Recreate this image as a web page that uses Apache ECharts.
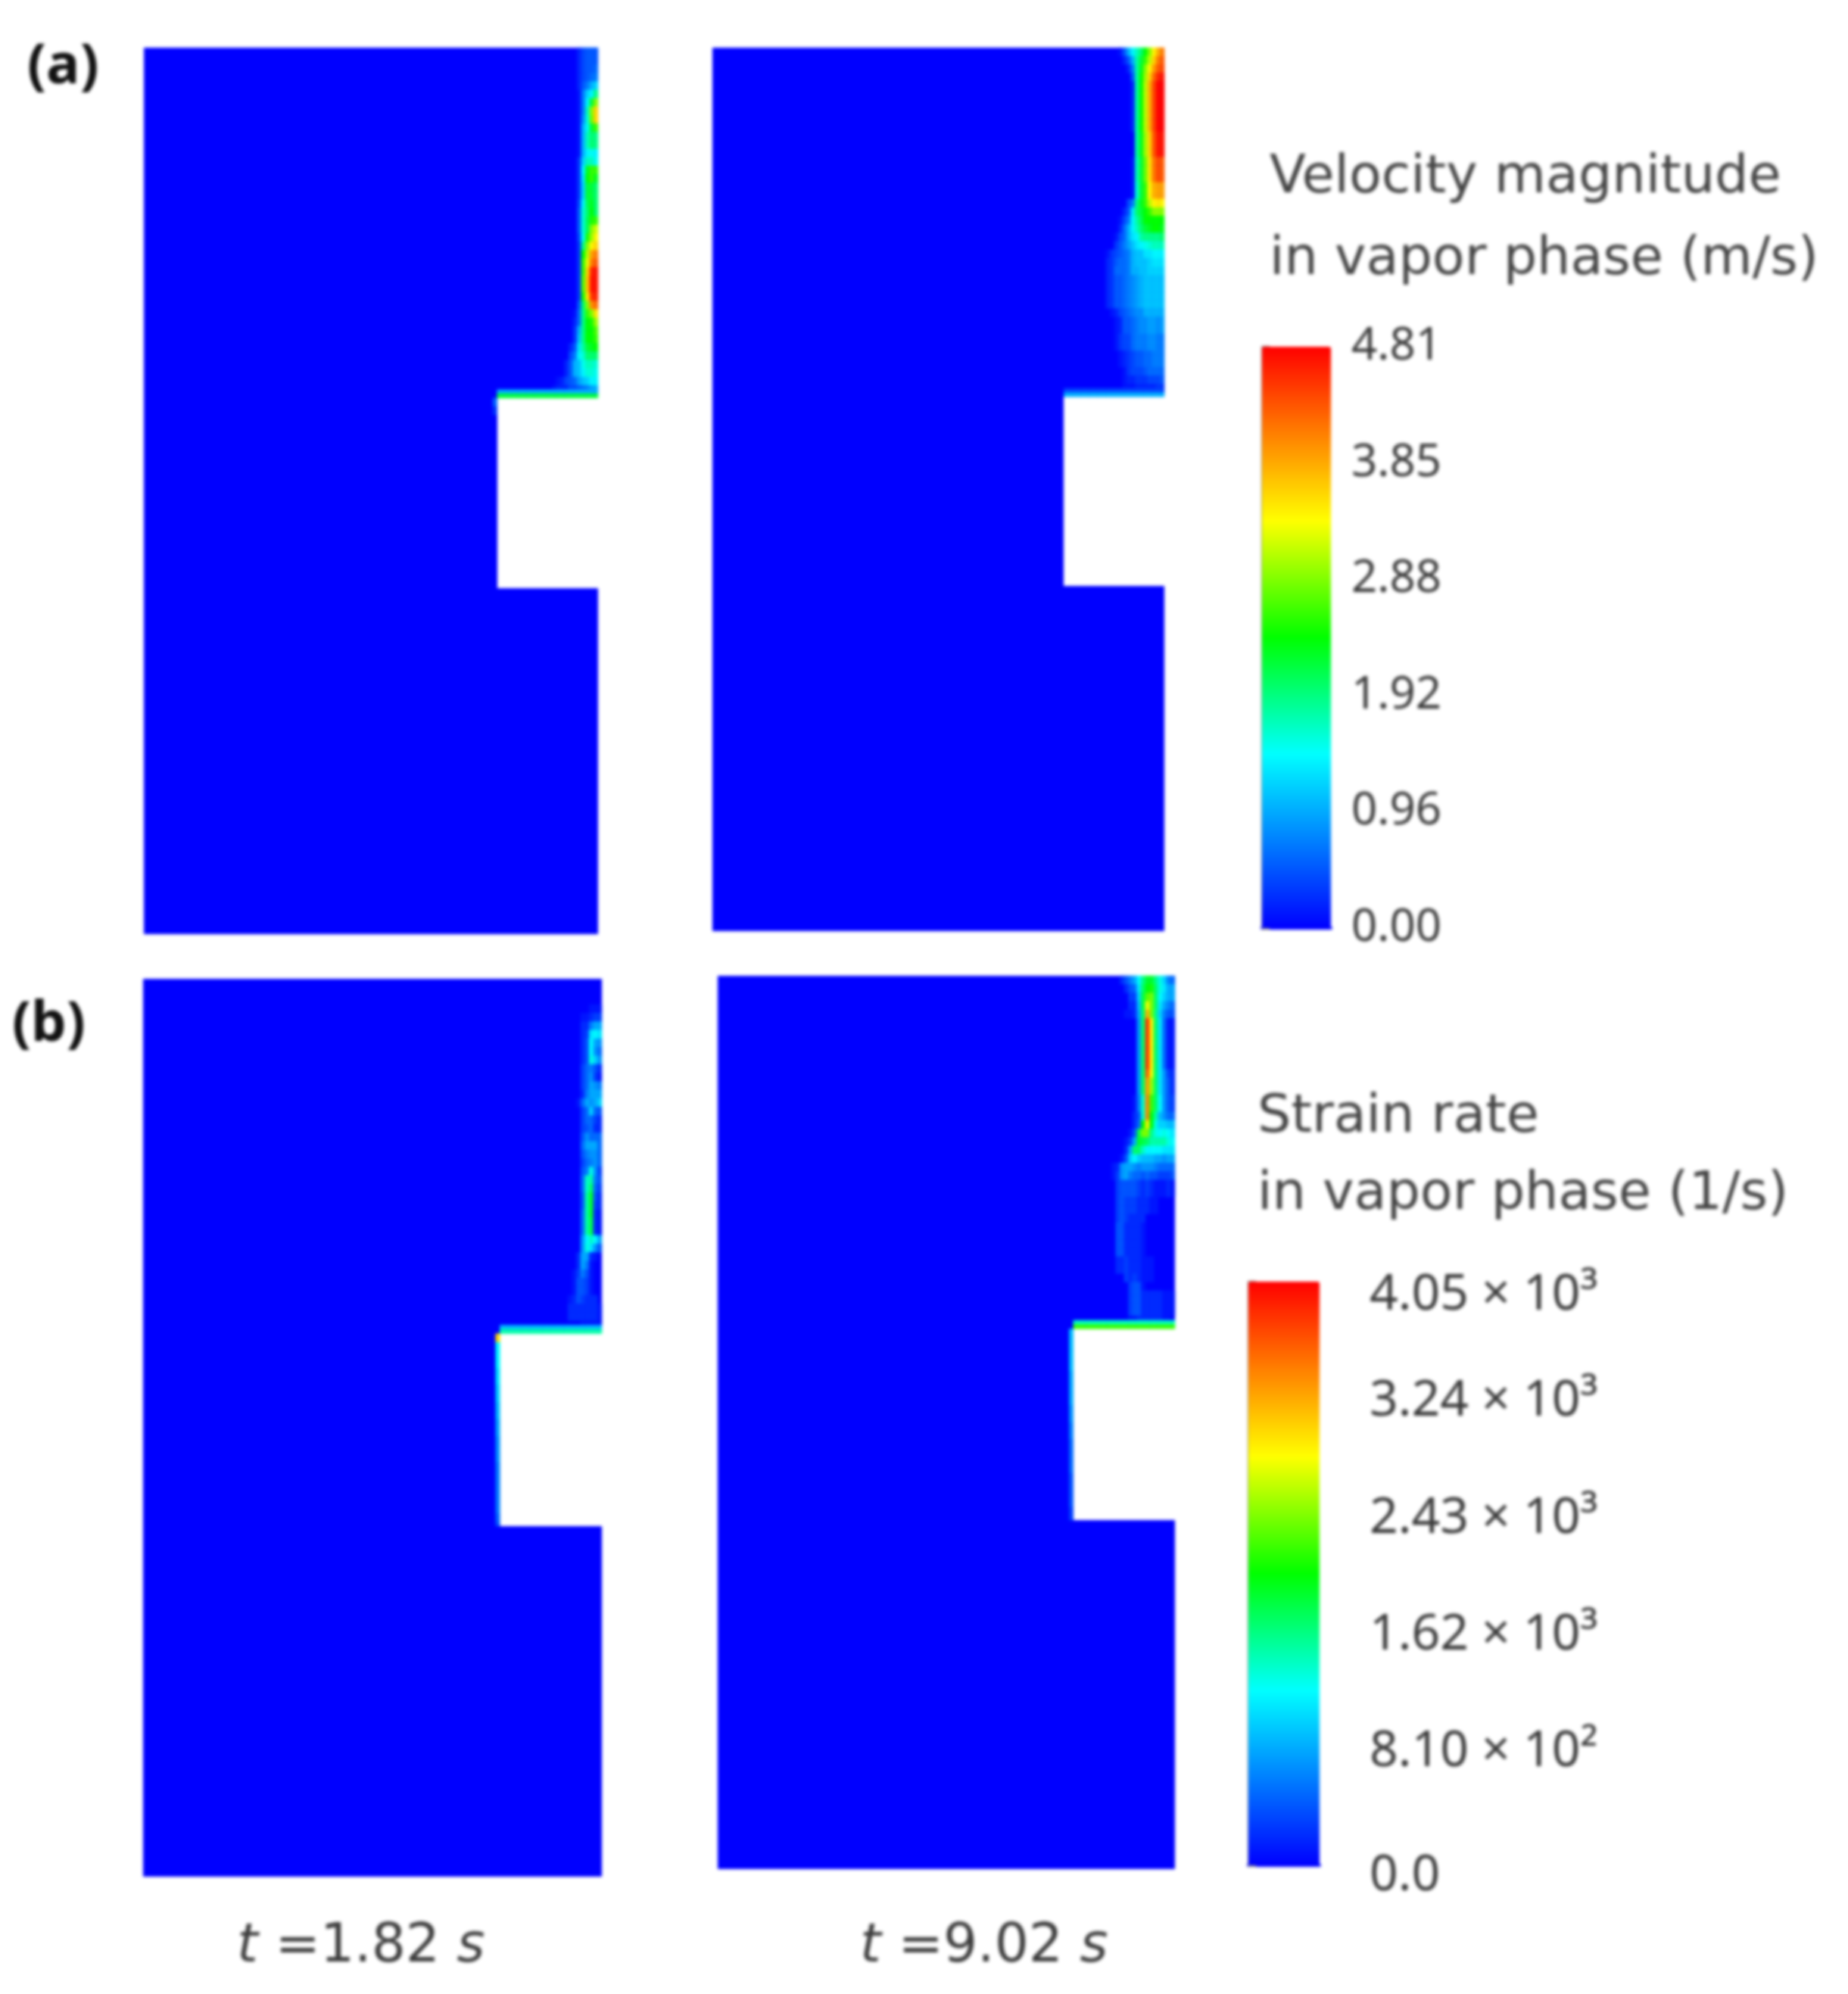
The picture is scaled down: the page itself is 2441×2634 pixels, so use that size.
<!DOCTYPE html>
<html>
<head>
<meta charset="utf-8">
<title>Vapor phase contours</title>
<script src="https://cdn.jsdelivr.net/npm/echarts@6/dist/echarts.min.js"></script>
<style>
  html, body { margin: 0; background: #fff; }
  #chart { width: 2441px; height: 2634px; filter: blur(2px); }
</style>
</head>
<body>
<div id="chart"></div>
<script>
// Field rows run from the top of each panel down to the notch, right aligned
// against the wall, anything to their left is zero. Velocity in m/s.
const velocityEarly = [
  [0.2,0.4,0.5,0.5,0.5],[0.2,0.4,0.5,0.5,0.5],[0.2,0.4,0.5,0.5,0.6],[0.2,0.4,0.5,0.6,0.7],
  [0.2,0.5,0.7,1,1.2],[0.1,0.7,1.2,1.4,1.9],[0.1,0.7,1.4,2.2,2.9],[0.1,0.7,1.7,2.9,3.6],
  [0.1,0.8,1.6,2.8,3.6],[0.1,1,1.5,2.2,2.6],[0.1,1,1.7,2,1.9],[0.1,1,1.7,2,1.9],
  [0.1,1,1.4,1.5,1.4],[0.3,1.2,1.7,1.7,1.5],[0.3,1.4,2.3,2.6,2.6],[0.3,1.3,2.4,2.6,2.3],
  [0.3,1.2,2.2,2.2,2],[0.3,1.2,2.2,2.2,2],[0.4,1.4,2.1,2.3,2],[0.5,1.6,2,2.4,2],
  [0.5,1.6,2.1,2.5,2.6],[0.5,1.6,2.1,2.9,3.2],[0.4,1.5,2.5,3,3.4],[0.3,1.9,2.9,3.4,3.6],
  [0.3,2.4,3.1,3.9,4.1],[0.3,2.6,3.3,4.1,4.3],[0.3,2.6,3.6,4.6,4.7],[0.3,2.7,3.7,4.7,4.7],
  [0.3,2.7,3.7,4.7,4.7],[0.3,2.5,3.5,4.5,4.6],[0.5,2,2.9,4,4.2],[0.1,0.6,1.9,2.6,2.9,3.5],
  [0.2,0.6,1.9,2.4,2.5,3],[0.3,1,1.9,2.4,2.4,2.7],[0.3,1.1,1.9,2.4,2.4,2.6],[0.2,0.5,1.3,1.8,2.2,2.3,2.4],
  [0.4,0.7,1.4,1.6,2,2,2],[0.2,0.5,1,1.1,1.5,1.7,1.7,1.6],[0.2,0.5,1,1.1,1.4,1.6,1.6,1.5],
  [0.1,0.2,0.4,0.5,0.6,0.9,1.1,1.2,1.4,1.4],[0.1,0.2,0.2,0.2,0.4,0.4,0.5,0.6,0.7,0.9,1]
];
const velocityLate = [
  [0.1,0.5,1,1.4,1.7,2,2.4,2.9,3.4,3.8,4.1],[0.2,0.5,1,1.8,2.2,2.6,3.1,3.6,4.1,4.3],
  [0.2,0.7,1.8,2.3,2.9,3.4,3.9,4.3,4.4],[0.5,1.8,2.4,3,3.6,4.2,4.6,4.7],
  [0.2,1.8,2.4,3.1,3.8,4.4,4.8,4.8],[0.2,1.8,2.4,3.1,3.8,4.4,4.8,4.8],[0.2,1.8,2.4,3.1,3.8,4.4,4.8,4.8],
  [0.2,1.8,2.4,3.1,3.8,4.4,4.8,4.8],[0.2,1.8,2.4,3.1,3.8,4.4,4.8,4.8],[0.2,1.8,2.4,3.1,3.8,4.4,4.8,4.8],
  [1.8,2.3,3,3.6,4.3,4.7,4.7],[1.8,2.3,3,3.6,4.3,4.7,4.7],[1.8,2.3,3,3.6,4.3,4.7,4.7],
  [0.1,1.7,2.2,2.8,3.5,4.1,4.4,4.3],[0.1,1.7,2.2,2.8,3.5,4.1,4.4,4.3],[0.1,1.7,2.2,2.8,3.5,4.1,4.4,4.3],
  [0.1,1.6,2.2,2.6,3.4,3.8,3.9,3.9],[0.1,1.6,2.2,2.6,3.4,3.8,3.9,3.9],[0.4,0.7,1.9,2.3,2.6,3.1,3.4,3.5,3.4],
  [0.2,0.5,1.3,2,2.2,2.4,2.6,2.9,2.9,2.9],[0.1,0.4,0.7,1.4,1.8,2.1,2.4,2.4,2.4,2.4,2.4],
  [0.2,0.6,1,1.4,1.7,2,2.2,2.3,2.4,2.4,2.3],[0.1,0.4,0.6,1,1.3,1.4,1.8,1.9,1.9,1.9,1.9,2],
  [0.3,0.5,0.7,0.9,1.1,1.3,1.4,1.5,1.6,1.7,1.7,1.7],[0.1,0.3,0.4,0.5,0.6,0.7,1,1.1,1.1,1.3,1.3,1.4,1.4,1.4],
  [0.2,0.3,0.5,0.6,0.6,0.7,1,1.1,1.1,1.1,1.2,1.3,1.3,1.3],[0.2,0.3,0.6,0.6,0.6,0.7,1,1,1.1,1.1,1.2,1.2,1.2,1.2],
  [0.2,0.3,0.5,0.5,0.6,0.7,0.8,0.9,1,1.1,1.1,1.1,1.1,1.1],[0.2,0.3,0.5,0.5,0.6,0.7,0.8,0.9,1,1.1,1.1,1.1,1.1,1.1],
  [0.2,0.3,0.5,0.5,0.6,0.7,0.8,0.9,1,1.1,1.1,1.1,1.1,1.1],[0.2,0.3,0.5,0.5,0.6,0.7,0.8,0.9,1,1.1,1.1,1.1,1.1,1.1],
  [0.1,0.2,0.4,0.5,0.6,0.7,0.8,0.8,1,1,1,1,1],[0.1,0.2,0.5,0.5,0.6,0.7,0.8,0.8,0.9,0.9,0.8,0.9],
  [0.1,0.2,0.5,0.5,0.6,0.7,0.8,0.8,0.9,0.9,0.8,0.9],[0.1,0.3,0.4,0.4,0.6,0.7,0.7,0.7,0.8,0.8,0.7,0.7],
  [0.1,0.3,0.4,0.4,0.6,0.7,0.7,0.7,0.8,0.8,0.7,0.7],[0.1,0.2,0.3,0.4,0.5,0.5,0.6,0.6,0.7,0.7,0.7],
  [0.1,0.2,0.3,0.4,0.5,0.5,0.6,0.6,0.7,0.7,0.7],[0.1,0.3,0.4,0.4,0.4,0.5,0.6,0.6,0.6,0.6],
  [0.1,0.2,0.2,0.3,0.3,0.3,0.4,0.4,0.4,0.5],[0.1,0.1,0.1,0.2,0.2,0.2,0.2,0.2,0.3,0.3]
];

// Strain rate in 10^3 1/s
const strainEarly = [
  [],[],[],[0.1,0.1,0.1],[0.1,0.1,0.2,0.3,0.3],[0.2,0.2,0.6,0.8,0.8],[0.2,0.3,1.1,1.2,1.1],
  [0.2,0.4,1.2,0.8,0.7],[0.2,0.4,1.2,0.7,0.5],[0.2,0.4,1.3,1,0.7],[0.3,0.5,0.6,0.4,0.2],
  [0.3,0.5,0.7,0.3,0.1],[0.3,0.5,0.8,0.7,0.6],[0.2,0.6,0.8,0.8,0.8],[0.1,0.5,0.8,0.7,0.8,1],
  [0.3,0.5,1,0.5,0.4],[0.3,0.5,0.5,0.3,0.2],[0.3,0.4,0.5,0.2,0.2],[0.4,0.7,0.5,0.5,0.5],
  [0.5,0.8,0.8,0.8,0.5],[0.4,0.6,0.7,0.7,0.5],[0.3,0.5,0.6,0.7,0.5],[0.4,0.6,1.3,0.7,0.3],
  [0.5,1.4,1.5,0.6,0.4],[0.5,1.4,1.7,0.5,0.3],[0.4,1.5,1.9,0.4,0.2],[0.4,1.5,1.9,0.3,0.2],
  [0.5,1.5,1.9,0.2,0.1],[0.5,1.5,1.8,0.2,0.1],[0.5,1.5,1.8,0.2,0.1],[0.7,1.2,1.4,1.2,0.8],
  [0.7,1.3,1.1,0.7,0.4],[0.2,0.8,0.8,0.2,0.1,0],[0.2,0.8,0.6,0.1,0,0],[0.1,0.3,0.6,0.4,0.1,0,0],
  [0.1,0.4,0.4,0.3,0.1,0,0],[0.1,0.4,0.4,0.3,0.1,0,0],[0.1,0.2,0.4,0.3,0.2,0.2,0.2,0],
  [0.2,0.2,0.2,0.2,0.2,0.2,0.2,0.1],[0.2,0.2,0.2,0.2,0.2,0.2,0.2,0.1],[0.1,0.1,0.1,0.1,0.1]
];
const strainLate = [
  [0.2,0.4,0.6,0.8,1.2,1.6,1.9,1.9,1.6,1.3,1,0.6,0.5],[0.2,0.4,0.5,1.1,1.7,2,2.1,1.7,1.3,1.1,0.8,0.8],
  [0.3,0.3,1,1.8,2.3,2.4,1.7,1.2,1,0.8,0.8],[0.2,0.2,0.9,1.8,2.8,2.4,1.7,1.1,0.8,0.6,0.5],
  [0.1,0.1,0.2,0.8,1.7,3.2,2.4,1.6,1,0.6,0.4,0.4],[0.7,1.7,3.8,2.9,1.7,1.1,0.5,0.1,0.1],
  [0.7,1.7,3.8,2.9,1.7,1.1,0.5,0.1,0.1],[0.7,1.7,3.8,2.9,1.7,1.1,0.5,0.1,0.1],[0.7,1.7,3.8,2.9,1.7,1.1,0.5,0.1,0.1],
  [0.7,1.7,3.8,2.9,1.7,1.1,0.5,0.1,0.1],[0.7,1.7,3.8,2.9,1.7,1.1,0.5,0.1,0.1],[0.7,1.7,3.6,2.8,1.7,1.1,0.7,0.3,0.2],
  [0.7,1.7,3.3,2.5,1.7,1.1,0.7,0.4,0.2],[0.7,1.7,3.3,2.5,1.7,1.1,0.7,0.4,0.2],[0.1,0.6,1.4,3.4,2.2,1.7,1.2,0.7,0.4,0.3],
  [0.1,0.6,1.4,3.4,2.2,1.7,1.2,0.7,0.4,0.3],[0.2,0.4,1.4,3.4,2,1.5,0.9,0.7,0.5,0.5],[0.2,0.5,2,2.9,2,1.3,1,1,0.9,0.9],
  [0.1,0.4,1.8,2.4,2.4,1.6,1.3,1.2,1.3,1.2,1.1],[0.1,0.3,0.8,1.9,1.8,1.7,1.5,1.5,1.5,1.5,1.3,1.2],
  [0.2,0.8,1.7,1.7,1.4,1.2,1.2,1.2,1.2,1.1,1.1,1.1],[0.1,0.4,1,1.2,1,0.9,0.9,0.9,0.8,0.8,0.7,0.8,0.8],
  [0.1,0.2,0.7,0.8,0.8,0.7,0.6,0.7,0.7,0.7,0.6,0.5,0.5,0.5,0.5],[0.1,0.3,0.7,0.8,0.6,0.5,0.5,0.4,0.5,0.4,0.4,0.3,0.3,0.3,0.4],
  [0.3,0.4,0.4,0.4,0.4,0.3,0.2,0.3,0.2,0.1,0.1,0.1,0.2,0.1],[0.3,0.4,0.4,0.4,0.4,0.3,0.2,0.3,0.2,0.1,0.1,0.1,0.2,0.1],
  [0.3,0.4,0.3,0.3,0.3,0.2,0.2,0.2,0.1,0.1,0,0,0,0],[0.3,0.4,0.3,0.3,0.3,0.2,0.2,0.2,0.1,0.1,0,0,0,0],
  [0.3,0.4,0.3,0.2,0.2,0.2,0.2,0,0,0,0,0,0,0],[0.4,0.4,0.2,0.2,0.2,0.2,0.1,0,0,0,0,0,0,0],
  [0.4,0.4,0.2,0.2,0.2,0.2,0.1,0,0,0,0,0,0,0],[0.4,0.4,0.2,0.2,0.2,0.2,0.1,0,0,0,0,0,0,0],
  [0.4,0.4,0.2,0.2,0.2,0.2,0.1,0,0,0,0,0,0,0],[0.2,0.2,0.3,0.2,0.2,0.2,0.1,0.1,0.1,0,0,0,0,0],
  [0.2,0.2,0.3,0.2,0.2,0.2,0.1,0.1,0.1,0,0,0,0,0],[0.3,0.2,0.3,0.2,0.1,0.1,0.1,0,0,0,0,0],
  [0.3,0.4,0.4,0.1,0,0,0,0,0,0,0],[0.3,0.4,0.4,0.2,0.2,0.2,0.2,0.2,0.1,0.1,0.1],
  [0.3,0.4,0.4,0.2,0.2,0.2,0.2,0.2,0.1,0.1,0.1],[0.3,0.4,0.4,0.2,0.2,0.2,0.2,0.2,0.1,0.1,0.1],
  [0.1,0.1,0.2,0.2,0.2,0.2,0.2,0.2,0.1,0.1,0]
];

// Values along the wall above the notch, one per panel: the row on the wall and the row over it
const notchTopValues = [2.2, 1.0, 1.5, 2.2];
const notchUpperValues = [1.0, 0.4, 0.9, 1.4];
// Value along the notch's left wall, top to bottom
const velocityEarlySide = [0.6, 0.3];
const velocityLateSide = [];
const strainEarlySide = [3, 1.2, 1.2, 1.2, 1.1, 1.1, 1, 1, 0.9, 0.9, 0.8, 0.8, 0.7, 0.7, 0.7, 0.6, 0.6, 0.6, 0.6, 0.6, 0.6, 0.5, 0.4];
const strainLateSide = [0.9, 0.9, 0.9, 0.9, 0.9, 0.8, 0.8, 0.8, 0.8, 0.7, 0.7, 0.6, 0.6, 0.5, 0.5, 0.5, 0.5, 0.4, 0.4, 0.4, 0.4, 0.3, 0.3];

const velocityTicks = ["0.00", "", "0.96", "", "1.92", "", "2.88", "", "3.85", "", "4.81"];
const strainTicks = ["0.0", "", "8.10 × 10²", "", "1.62 × 10³", "", "2.43 × 10³", "", "3.24 × 10³", "", "4.05 × 10³"];
const rainbow = ["#0000ff", "#0055ff", "#00aaff", "#00ffff", "#00ff80", "#00ff00", "#80ff00", "#ffff00", "#ffaa00", "#ff5500", "#ff0000"];

const MESH_COLS = 108;
const MESH_ROWS = 210;

const panels = [
  { rows: velocityEarly, side: velocityEarlySide, edge: notchTopValues[0], upper: notchUpperValues[0], box: [190, 63, 600, 1171], notch: [24, 83, 128] },
  { rows: velocityLate, side: velocityLateSide, edge: notchTopValues[1], upper: notchUpperValues[1], box: [941, 63, 597, 1167], notch: [24, 83, 128] },
  { rows: strainEarly, side: strainEarlySide, edge: notchTopValues[2], upper: notchUpperValues[2], box: [189, 1293, 606, 1186], notch: [24, 83, 128] },
  { rows: strainLate, side: strainLateSide, edge: notchTopValues[3], upper: notchUpperValues[3], box: [948, 1289, 604, 1180], notch: [24, 83, 128] },
];

// only the non-zero cells, the zero background comes from the domain blocks
function buildField({ rows, side, edge, upper, notch }) {
  const [notchCols, notchTop, notchBottom] = notch;
  const firstNotchCol = MESH_COLS - notchCols;
  const cells = [];
  for (let r = 0; r < MESH_ROWS; r++) {
    for (let c = 0; c < MESH_COLS; c++) {
      if (c >= firstNotchCol && r >= notchTop && r < notchBottom) continue;
      let value = 0;
      const row = rows[Math.floor(r / 2)];
      if (row && c >= MESH_COLS - row.length) value = row[c - (MESH_COLS - row.length)];
      if (r === notchTop - 2 && c >= firstNotchCol) value = Math.max(value, upper);
      if (r === notchTop - 1 && c >= firstNotchCol) value = edge;
      if (c === firstNotchCol - 1 && r >= notchTop && r < notchBottom) {
        const wall = side[Math.floor((r - notchTop) / 2)];
        if (wall !== undefined) value = wall;
      }
      if (value > 0) cells.push([c, r, value]);
    }
  }
  return cells;
}

function domainBlocks([notchCols, notchTop, notchBottom]) {
  const firstNotchCol = MESH_COLS - notchCols;
  return [
    [0, 0, MESH_COLS - 1, notchTop - 1],
    [0, notchTop, firstNotchCol - 1, notchBottom - 1],
    [0, notchBottom, MESH_COLS - 1, MESH_ROWS - 1],
  ];
}

function renderBlock(params, api) {
  const band = api.size([1, 1]);
  const start = api.coord([api.value(0), api.value(1)]);
  const end = api.coord([api.value(2), api.value(3)]);
  const x0 = Math.round(start[0] - band[0] / 2);
  const y0 = Math.round(start[1] - band[1] / 2);
  const x1 = Math.round(end[0] + band[0] / 2);
  const y1 = Math.round(end[1] + band[1] / 2);
  return { type: "rect", shape: { x: x0, y: y0, width: x1 - x0, height: y1 - y0 }, style: { fill: "#0000ff" } };
}

const colIndex = Array.from({ length: MESH_COLS }, (_, i) => i);
const rowIndex = Array.from({ length: MESH_ROWS }, (_, i) => i);

const grids = panels.map((p) => ({ left: p.box[0], top: p.box[1], width: p.box[2], height: p.box[3] }));
grids.push({ left: 1667, top: 458, width: 91, height: 768 });
grids.push({ left: 1649, top: 1693, width: 94, height: 771 });

const xAxes = panels.map((p, i) => ({ type: "category", gridIndex: i, data: colIndex, show: false }));
const yAxes = panels.map((p, i) => ({ type: "category", gridIndex: i, data: rowIndex, inverse: true, show: false }));

function colorbarAxis(gridIndex, ticks, margin, fontSize, extraLabel) {
  return {
    type: "category",
    gridIndex,
    position: "right",
    data: ticks,
    boundaryGap: false,
    axisLine: { show: true, lineStyle: { color: "#8a8a8a", width: 2 } },
    axisTick: { show: true, alignWithLabel: true, length: 10, interval: 0, lineStyle: { color: "#777", width: 3 } },
    axisLabel: { show: true, interval: 0, margin, color: "#3a3a3a", fontSize, fontFamily: "Noto Sans", padding: [9, 0, 0, 0], ...extraLabel },
    splitLine: { show: false },
  };
}
// a blue line closes the foot of each colour bar
function colorbarFoot(gridIndex) {
  return {
    type: "value",
    gridIndex,
    min: 0,
    max: 1,
    axisLine: { show: true, lineStyle: { color: "#0000ff", width: 4 } },
    axisTick: { show: false },
    axisLabel: { show: false },
    splitLine: { show: false },
  };
}

const strainLabelBase = { color: "#3a3a3a", fontSize: 66, fontFamily: "Noto Sans" };
const strainLabel = {
  formatter: (value, index) => {
    if (index === strainTicks.length - 1) return `{top|${value}}`;
    if (index === 0) return `{low|${value}}`;
    return value;
  },
  rich: {
    top: { ...strainLabelBase, padding: [27, 0, 0, 0] },
    low: { ...strainLabelBase, padding: [20, 0, 0, 0] },
  },
};

xAxes.push(colorbarFoot(4), colorbarFoot(5));
yAxes.push(colorbarAxis(4, velocityTicks, 27, 60), colorbarAxis(5, strainTicks, 66, 66, strainLabel));

const series = panels.map((p, i) => ({
  type: "heatmap",
  xAxisIndex: i,
  yAxisIndex: i,
  data: buildField(p),
  progressive: 0,
  silent: true,
  z: 3,
  itemStyle: { borderWidth: 0 },
}));
panels.forEach((p, i) => {
  series.push({
    type: "custom",
    xAxisIndex: i,
    yAxisIndex: i,
    data: domainBlocks(p.notch),
    encode: { x: [0, 2], y: [1, 3] },
    renderItem: renderBlock,
    silent: true,
    z: 1,
  });
});

function titleText(text, left, top, fontSize, extra) {
  return {
    text,
    left,
    top,
    padding: 0,
    textStyle: { fontFamily: "DejaVu Sans", fontWeight: "normal", fontSize, color: "#444", ...extra },
  };
}

const timeRich = {
  i: { fontFamily: "DejaVu Sans", fontStyle: "italic", fontWeight: "normal", fontSize: 71, color: "#3c3c3c" },
  n: { fontFamily: "DejaVu Sans", fontWeight: "normal", fontSize: 71, color: "#3c3c3c" },
};

const option = {
  animation: false,
  backgroundColor: "#fff",
  grid: grids,
  xAxis: xAxes,
  yAxis: yAxes,
  series,
  visualMap: [
    { type: "continuous", seriesIndex: [0, 1], min: 0, max: 4.81, left: 1667, top: 458, itemWidth: 91, itemHeight: 768, padding: 0, text: null, calculable: false, inRange: { color: rainbow } },
    { type: "continuous", seriesIndex: [2, 3], min: 0, max: 4.05, left: 1649, top: 1693, itemWidth: 94, itemHeight: 771, padding: 0, text: null, calculable: false, inRange: { color: rainbow } },
  ],
  title: [
    titleText("(a)", 36, 52, 74, { fontFamily: "Noto Sans", fontWeight: "bold", color: "#111" }),
    titleText("(b)", 16, 1317, 74, { fontFamily: "Noto Sans", fontWeight: "bold", color: "#111" }),
    titleText("Velocity magnitude", 1677, 201, 70),
    titleText("in vapor phase (m/s)", 1677, 309, 70),
    titleText("Strain rate", 1661, 1442, 70),
    titleText("in vapor phase (1/s)", 1661, 1544, 70),
    { text: "{i|t }{n|=1.82 }{i|s}", left: 313, top: 2537, padding: 0, textStyle: { rich: timeRich } },
    { text: "{i|t }{n|=9.02 }{i|s}", left: 1136, top: 2537, padding: 0, textStyle: { rich: timeRich } },
  ],
};

const chart = echarts.init(document.getElementById("chart"), null, { renderer: "canvas", devicePixelRatio: 1 });
chart.setOption(option);
</script>
</body>
</html>
